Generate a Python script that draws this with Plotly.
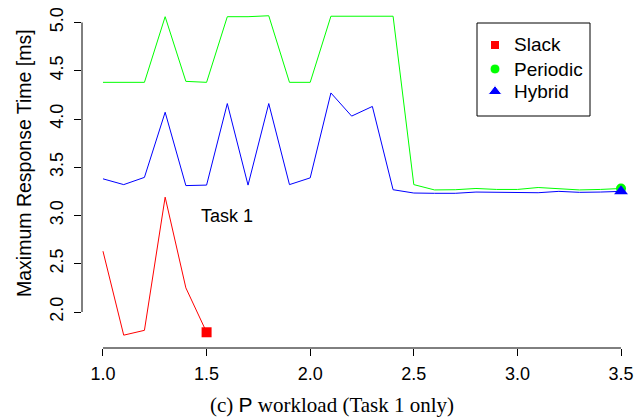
import plotly.graph_objects as go

x_vals = [1.0, 1.1, 1.2, 1.3, 1.4, 1.5, 1.6, 1.7, 1.8, 1.9, 2.0, 2.1, 2.2,
          2.3, 2.4, 2.5, 2.6, 2.7, 2.8, 2.9, 3.0, 3.1, 3.2, 3.3, 3.4, 3.5]

slack_x = [1.0, 1.1, 1.2, 1.3, 1.4, 1.5]
slack_y = [2.63, 1.76, 1.81, 3.19, 2.25, 1.79]

periodic_y = [4.38, 4.38, 4.38, 5.06, 4.39, 4.38, 5.06, 5.06, 5.07, 4.38, 4.38,
              5.065, 5.065, 5.065, 5.065, 3.32, 3.265, 3.267, 3.28, 3.27, 3.27,
              3.29, 3.28, 3.265, 3.27, 3.28]

hybrid_y = [3.38, 3.32, 3.395, 4.07, 3.31, 3.315, 4.16, 3.315, 4.16, 3.32, 3.39,
            4.27, 4.03, 4.13, 3.267, 3.233, 3.23, 3.23, 3.243, 3.243, 3.243,
            3.236, 3.25, 3.24, 3.243, 3.25]

series_names = ["Slack", "Periodic", "Hybrid"]

x_ticks = [1.0, 1.5, 2.0, 2.5, 3.0, 3.5]
x_tick_labels = ["1.0", "1.5", "2.0", "2.5", "3.0", "3.5"]
y_ticks = [2.0, 2.5, 3.0, 3.5, 4.0, 4.5, 5.0]
y_tick_labels = ["2.0", "2.5", "3.0", "3.5", "4.0", "4.5", "5.0"]

RED, GREEN, BLUE = "#FF0000", "#00FF00", "#0000FF"
colors = [RED, GREEN, BLUE]
symbols = ["square", "circle", "triangle-up"]
msizes = [10, 10, 12]
SANS = "Liberation Sans, Arial, sans-serif"
SERIF = "Liberation Serif, Times New Roman, serif"

W, H = 638, 420
ML, MR, MT, MB = 82, 0, 3, 72
PW, PH = W - ML - MR, H - MT - MB


def px_x(p):
    return (p - ML) / PW


def px_y(p):
    return (H - MB - p) / PH


fig = go.Figure()

# lines
fig.add_trace(go.Scatter(x=slack_x, y=slack_y, mode="lines",
                         line=dict(color=RED, width=1), showlegend=False, hoverinfo="skip"))
fig.add_trace(go.Scatter(x=x_vals, y=periodic_y, mode="lines",
                         line=dict(color=GREEN, width=1), showlegend=False, hoverinfo="skip"))
fig.add_trace(go.Scatter(x=x_vals, y=hybrid_y, mode="lines",
                         line=dict(color=BLUE, width=1), showlegend=False, hoverinfo="skip"))

# end markers
ends = [(slack_x[-1], slack_y[-1]), (x_vals[-1], periodic_y[-1]), (x_vals[-1], hybrid_y[-1])]
for (ex, ey), nm, c, s, ms in zip(ends, series_names, colors, symbols, msizes):
    fig.add_trace(go.Scatter(x=[ex], y=[ey], mode="markers", name=nm, showlegend=False,
                             marker=dict(symbol=s, color=c, size=ms, opacity=1)))

# manual legend drawn on an overlay axis measured in page pixels
leg_left, leg_right, leg_top, leg_bottom = 477, 590, 23, 116
leg_sym_x, leg_text_x = 495, 512
leg_rows = [45, 69, 91.5]
fig.add_trace(go.Scatter(x=[leg_sym_x] * 3, y=leg_rows, mode="markers", xaxis="x2", yaxis="y2",
                         showlegend=False, hoverinfo="skip",
                         marker=dict(symbol=symbols, color=colors, size=[9, 10, 12], opacity=1)))
for nm, ry in zip(series_names, leg_rows):
    fig.add_annotation(xref="paper", yref="paper", x=px_x(leg_text_x), y=px_y(ry), text=nm,
                       showarrow=False, xanchor="left", yanchor="middle",
                       font=dict(family=SANS, size=19, color="black"))
fig.add_shape(type="rect", xref="paper", yref="paper", x0=px_x(leg_left), x1=px_x(leg_right),
              y0=px_y(leg_bottom), y1=px_y(leg_top), line=dict(color="black", width=1),
              fillcolor="rgba(0,0,0,0)")

# R-style axis lines spanning the tick range only
fig.add_shape(type="line", xref="x", yref="paper", x0=min(x_ticks), x1=max(x_ticks),
              y0=0, y1=0, line=dict(color="black", width=1))
fig.add_shape(type="line", xref="paper", yref="y", x0=0, x1=0,
              y0=min(y_ticks), y1=max(y_ticks), line=dict(color="black", width=1))

fig.add_annotation(x=1.6, y=3.0, text="Task 1", showarrow=False,
                   font=dict(family=SANS, size=18, color="black"))

fig.add_annotation(xref="paper", yref="paper", x=px_x(24), y=px_y(163),
                   xanchor="center", yanchor="middle",
                   text="Maximum Response Time [ms]", textangle=-90, showarrow=False,
                   font=dict(family=SANS, size=19.5, color="black"))

fig.add_annotation(xref="paper", yref="paper", x=px_x(332), y=px_y(405),
                   text="(c) <span style='font-family:Liberation Sans'>P</span> workload (Task 1 only)",
                   showarrow=False, xanchor="center", yanchor="middle",
                   font=dict(family=SERIF, size=21, color="black"))

fig.update_layout(
    width=W, height=H,
    margin=dict(l=ML, r=MR, t=MT, b=MB),
    paper_bgcolor="white", plot_bgcolor="white",
    font=dict(family=SANS, size=18, color="black"),
    showlegend=False,
    xaxis=dict(range=[0.8987, 3.582], tickvals=x_ticks, ticktext=x_tick_labels,
               ticks="outside", ticklen=7, tickcolor="black", tickwidth=1,
               showgrid=False, zeroline=False, showline=False, ticklabelstandoff=2,
               tickfont=dict(family=SANS, size=18, color="black")),
    yaxis=dict(range=[1.627, 5.202], tickvals=y_ticks, ticktext=y_tick_labels,
               ticks="outside", ticklen=7, tickcolor="black", tickwidth=1,
               tickangle=-90, showgrid=False, zeroline=False, showline=False,
               ticklabelstandoff=4,
               tickfont=dict(family=SANS, size=18, color="black")),
    xaxis2=dict(range=[ML, W - MR], overlaying="x", visible=False, fixedrange=True),
    yaxis2=dict(range=[H - MB, MT], overlaying="y", visible=False, fixedrange=True),
)

fig.write_html("out.html", config={"displayModeBar": False},
               post_script="document.body.style.margin='0';document.body.style.padding='0';")
